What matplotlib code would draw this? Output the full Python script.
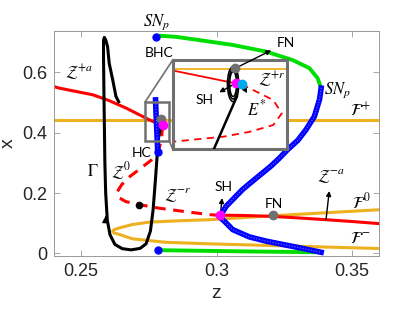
import matplotlib
matplotlib.use("Agg")
import matplotlib.pyplot as plt
from matplotlib.patches import Rectangle, Ellipse, ConnectionPatch

plt.rcParams['mathtext.fontset'] = 'stix'
plt.rcParams['font.family'] = ['Liberation Sans', 'DejaVu Sans']

# ---------------- data (z, x) ----------------
# critical manifold Z
z_za_up = [0.2400, 0.2420, 0.2543, 0.2600, 0.2666, 0.2752, 0.2789, 0.2801]
x_za_up = [0.553, 0.548, 0.526, 0.508, 0.482, 0.443, 0.428, 0.424]
z_zr = [0.2801, 0.2797, 0.2785, 0.2760, 0.2720, 0.2680, 0.2650, 0.2634, 0.2640,
        0.2665, 0.2715, 0.2789, 0.2900, 0.2973, 0.3014]
x_zr = [0.424, 0.380, 0.336, 0.310, 0.282, 0.255, 0.228, 0.205, 0.185,
        0.172, 0.162, 0.150, 0.137, 0.129, 0.126]
z_za_lo = [0.3014, 0.3100, 0.3207, 0.3300, 0.3404, 0.3500, 0.3600]
x_za_lo = [0.127, 0.126, 0.123, 0.118, 0.112, 0.106, 0.099]

# fast nullclines F
z_fplus = [0.24, 0.36]
x_fplus = [0.444, 0.444]
z_f0m = [0.3600, 0.3207, 0.2974, 0.2850, 0.2752, 0.2690, 0.2642, 0.2622, 0.2617,
         0.2622, 0.2642, 0.2690, 0.2814, 0.2974, 0.3300, 0.3600]
x_f0m = [0.145, 0.125, 0.112, 0.108, 0.104, 0.096, 0.085, 0.079, 0.074,
         0.068, 0.063, 0.0486, 0.037, 0.032, 0.024, 0.0165]

# trajectory Gamma
z_gam = [0.2639, 0.2629, 0.2617, 0.2604, 0.2598, 0.2591, 0.2586, 0.2583, 0.2583,
         0.2585, 0.2588, 0.2591, 0.2597, 0.2607, 0.2625, 0.2652, 0.2685, 0.2718,
         0.2740, 0.2756, 0.2766, 0.2775, 0.2785, 0.2792]
x_gam = [0.503, 0.520, 0.575, 0.630, 0.685, 0.708, 0.716, 0.706, 0.650,
         0.500, 0.300, 0.200, 0.110, 0.062, 0.030, 0.016, 0.012, 0.017,
         0.032, 0.074, 0.145, 0.250, 0.377, 0.415]

# periodic orbit branch
z_green_up = [0.2785, 0.2850, 0.2937, 0.3060, 0.3183, 0.3281, 0.3343, 0.3373, 0.3386]
x_green_up = [0.722, 0.718, 0.707, 0.691, 0.669, 0.641, 0.614, 0.581, 0.548]
z_green_lo = [0.2783, 0.3100, 0.3386]
x_green_lo = [0.011, 0.007, 0.004]
z_blue = [0.3386, 0.3380, 0.3361, 0.3330, 0.3300, 0.3262, 0.3232, 0.3200, 0.3140,
          0.3096, 0.3035, 0.3017, 0.3015, 0.3029, 0.3060, 0.3121, 0.3183, 0.3306, 0.3386]
x_blue = [0.548, 0.510, 0.454, 0.410, 0.375, 0.344, 0.316, 0.289, 0.245,
          0.212, 0.156, 0.129, 0.118, 0.107, 0.079, 0.055, 0.041, 0.019, 0.004]
z_blue_hc = [0.2783, 0.2780, 0.2777, 0.2775]
x_blue_hc = [0.337, 0.400, 0.460, 0.509]
z_blue_pts = [0.2777, 0.2783, 0.2783]
x_blue_pts = [0.716, 0.337, 0.010]

# special points
sh_main = (0.3014, 0.127)
fn_main = (0.3207, 0.127)
sh_box = (0.2801, 0.426)
fn_box = (0.2795, 0.446)
black_pt = (0.2715, 0.162)

# zoom box region
box_z = (0.2736, 0.2826)
box_x = (0.3713, 0.5015)

# inset (magnified) data
in_z_red = [0.2755, 0.27952]
in_x_red = [0.4445, 0.43834]
in_z_rdash = [0.27983, 0.28044, 0.28149, 0.28194, 0.28149, 0.28027, 0.27886, 0.27711, 0.27623, 0.2755]
in_x_rdash = [0.43806, 0.43570, 0.43177, 0.42654, 0.42194, 0.41930, 0.41734, 0.41605, 0.41537, 0.4150]
in_z_traj = [0.27957, 0.27837, 0.2782]
in_x_traj = [0.43307, 0.41250, 0.4095]
in_ell_w = [0.00060, 0.00047, 0.00036]
in_ell_h = [0.0138, 0.0118, 0.0098]
in_center = (0.27938, 0.43806)
in_fn = (0.27948, 0.44424)
in_sh = (0.27952, 0.43834)
in_e = (0.27983, 0.43806)

RED = '#ff0000'
ORANGE = '#edb120'
GREEN = '#00dd00'
BLUE = '#0000ff'
MAGENTA = '#ff00ff'
GRAY = '#707070'
LBL = ['Lato', 'DejaVu Sans']

fig = plt.figure(figsize=(4.18, 3.14), dpi=100)
ax = fig.add_axes([0.129, 0.185, 0.778, 0.716])

ax.plot(z_fplus, x_fplus, color=ORANGE, lw=2.2, zorder=1)
ax.plot(z_f0m, x_f0m, color=ORANGE, lw=2.2, zorder=1)
ax.plot(z_za_up, x_za_up, color=RED, lw=2.2, zorder=2)
ax.plot(z_zr, x_zr, color=RED, lw=2.2, ls=(0, (3.5, 2.5)), zorder=2)
ax.plot(z_za_lo, x_za_lo, color=RED, lw=2.2, zorder=2)
ax.plot(z_gam, x_gam, color='k', lw=2.2, zorder=3)
ax.annotate('', xy=(0.2592, 0.135), xytext=(0.2591, 0.11),
            arrowprops=dict(arrowstyle='-|>', color='k', lw=1, mutation_scale=10), zorder=3)
ax.plot(z_green_up, x_green_up, color=GREEN, lw=2.8, zorder=4, solid_capstyle='round')
ax.plot(z_green_lo, x_green_lo, color=GREEN, lw=2.8, zorder=4, solid_capstyle='round')
for zz, xx in [(z_blue, x_blue), (z_blue_hc, x_blue_hc)]:
    ax.plot(zz, xx, color=BLUE, lw=4.0, zorder=5)
    ax.plot(zz, xx, color='#7070ff', lw=0.8, ls=(0, (1, 1.5)), zorder=5)
ax.plot(z_blue_pts, x_blue_pts, 'o', color=BLUE, ms=5, zorder=6)

ax.plot(*sh_main, 'o', color=MAGENTA, ms=6, zorder=7)
ax.plot(*fn_main, 'o', color=GRAY, ms=6, zorder=7)
ax.plot(*fn_box, 'o', color=GRAY, ms=6, zorder=7)
ax.plot(*sh_box, 'o', color=MAGENTA, ms=6, zorder=7)
ax.plot(*black_pt, 'o', color='k', ms=4.5, zorder=7)

ax.add_patch(Rectangle((box_z[0], box_x[0]), box_z[1] - box_z[0], box_x[1] - box_x[0],
                       fill=False, ec=GRAY, lw=1.8, zorder=8))

ax.set_xlim(0.24, 0.36)
ax.set_ylim(-0.008, 0.737)
ax.set_xticks([0.25, 0.3, 0.35])
ax.set_xticklabels(['0.25', '0.3', '0.35'])
ax.set_yticks([0, 0.2, 0.4, 0.6])
ax.set_yticklabels(['0', '0.2', '0.4', '0.6'])
ax.tick_params(direction='in', length=4, width=0.6, color='#999999', labelsize=13,
               labelcolor='#262626', top=True, right=True, pad=5)
for s in ax.spines.values():
    s.set_color('#999999')
    s.set_linewidth(0.7)
ax.set_xlabel('z', fontsize=14, color='#262626', labelpad=4)
ax.set_ylabel('x', fontsize=14, color='#262626', labelpad=4, rotation=90)

# labels in main axes
ax.text(0.2777, 0.768, r'$SN_p$', fontsize=12, ha='center', va='center')
ax.text(0.2789, 0.663, 'BHC', family=LBL, fontsize=10, ha='center', va='center')
ax.text(0.2760, 0.333, 'HC', family=LBL, fontsize=10, ha='right', va='center')
ax.text(0.2494, 0.600, r'$\mathcal{Z}^{+a}$', fontsize=12, ha='center', va='center')
ax.text(0.2543, 0.272, r'$\Gamma$', fontsize=12, ha='center', va='center')
ax.text(0.2648, 0.272, r'$\mathcal{Z}^{0}$', fontsize=12, ha='center', va='center')
ax.text(0.2857, 0.195, r'$\mathcal{Z}^{-r}$', fontsize=12, ha='center', va='center')
ax.annotate('SH', xy=sh_main, xytext=(0.3025, 0.222), family=LBL, fontsize=10,
            ha='center', va='center',
            arrowprops=dict(arrowstyle='<|-', color='k', lw=1, mutation_scale=7, shrinkB=3))
ax.text(0.3213, 0.165, 'FN', family=LBL, fontsize=10, ha='center', va='center')
ax.annotate(r'$\mathcal{Z}^{-a}$', xy=(0.3404, 0.112), xytext=(0.3422, 0.255), fontsize=12,
            ha='center', va='center',
            arrowprops=dict(arrowstyle='<|-', color='k', lw=1, mutation_scale=7, shrinkB=0))
ax.text(0.3536, 0.173, r'$\mathcal{F}^{0}$', fontsize=12, ha='center', va='center')
ax.text(0.3530, 0.050, r'$\mathcal{F}^{-}$', fontsize=12, ha='center', va='center')
ax.text(0.3530, 0.476, r'$\mathcal{F}^{+}$', fontsize=12, ha='center', va='center')
ax.text(0.3447, 0.540, r'$SN_p$', fontsize=12, ha='center', va='center')

# inset
axins = fig.add_axes([0.413, 0.5255, 0.273, 0.283], zorder=5)
axins.plot(z_fplus, x_fplus, color=ORANGE, lw=1.3, zorder=1)
axins.plot(in_z_red, in_x_red, color=RED, lw=1.3, zorder=2)
axins.plot(in_z_rdash, in_x_rdash, color=RED, lw=1.3, ls=(0, (4, 3)), zorder=2)
axins.plot(in_z_traj, in_x_traj, color='k', lw=1.8, zorder=3)
for w, h in zip(in_ell_w, in_ell_h):
    axins.add_patch(Ellipse(in_center, w, h, angle=0, fill=False, ec='k', lw=1.1, zorder=3))
axins.plot(*in_fn, 'o', color=GRAY, ms=6, zorder=6)
axins.plot(*in_sh, 'o', color=MAGENTA, ms=6, zorder=6)
axins.plot(*in_e, 'o', color='#00aaee', ms=6, zorder=6)
axins.set_xlim(0.2762, 0.2822)
axins.set_ylim(0.4125, 0.4475)
axins.set_xticks([])
axins.set_yticks([])
for s in axins.spines.values():
    s.set_color(GRAY)
    s.set_linewidth(2.2)
axins.text(0.28141, 0.4398, r'$\mathcal{Z}^{+r}$', fontsize=12, ha='center', va='center')
axins.annotate('SH', xy=in_sh, xytext=(0.2779, 0.4318), family=LBL, fontsize=10,
               ha='center', va='center',
               arrowprops=dict(arrowstyle='<|-', color='k', lw=1, mutation_scale=7, shrinkB=2))
axins.annotate(r'$E^{*}$', xy=in_e, xytext=(0.2806, 0.4285), fontsize=12,
               ha='center', va='center',
               arrowprops=dict(arrowstyle='<|-', color='k', lw=1, mutation_scale=7, shrinkB=2))
axins.annotate('FN', xy=in_fn, xytext=(0.3255, 0.697), textcoords=ax.transData,
               family=LBL, fontsize=10, ha='center', va='center', annotation_clip=False,
               arrowprops=dict(arrowstyle='<|-', color='k', lw=1, mutation_scale=7, shrinkB=2))

# connectors between zoom box and inset
for xyA, xyB in [((box_z[0], box_x[1]), (0, 1)), ((box_z[1], box_x[0]), (0, 0))]:
    con = ConnectionPatch(xyA=xyA, coordsA=ax.transData, xyB=xyB, coordsB=axins.transAxes,
                          color=GRAY, lw=1.2)
    fig.add_artist(con)

fig.savefig('out.png', dpi=100)
